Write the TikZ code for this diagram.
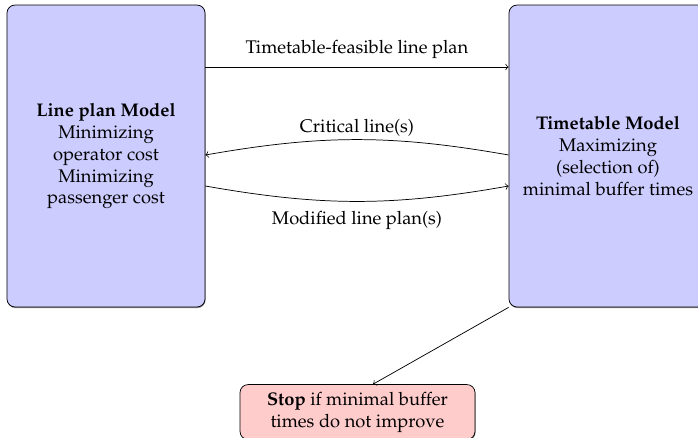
\documentclass[tikz,border=0pt]{standalone}
\usepackage[T1]{fontenc}
\usepackage{mathpazo}
\usetikzlibrary{arrows,shadows}
\tikzset{
  boxshadow/.style={drop shadow={shadow xshift=0.3pt, shadow yshift=-0.6pt, fill=black!45, opacity=1}},
  model/.style={draw, rounded corners=4.4pt, fill=blue!20, align=center, boxshadow,
    minimum width=108.2pt, minimum height=165pt, inner sep=2pt},
  stopbox/.style={draw, rounded corners=4.4pt, fill=red!20, align=center, boxshadow,
    minimum width=128.4pt, minimum height=30pt, inner sep=2pt},
  flow/.style={->, thin}
}
\begin{document}
\begin{tikzpicture}[x=0.5464pt, y=-0.5464pt]
  \useasboundingbox (0,0) rectangle (698,437);
  \node[model] (L) at (106,156) {\textbf{Line plan Model}\\Minimizing\\operator cost\\Minimizing\\passenger cost};
  \node[model] (R) at (608,156) {\textbf{Timetable Model}\\Maximizing\\(selection of)\\minimal buffer times};
  \node[stopbox] (S) at (357.5,412) {\textbf{Stop} if minimal buffer\\times do not improve};
  % forward: feasible plan
  \draw[flow] (L.east |- 0,67) -- node[above=1.2pt] {Timetable-feasible line plan} (R.west |- 0,67);
  % feedback: critical lines
  \draw[flow] (R.west |- 0,155) to[bend right=10] node[above=-1.5pt] {Critical line(s)} (L.east |- 0,155);
  % modified plan back to timetable
  \draw[flow] (L.east |- 0,186) to[bend right=10] node[below=2pt] {Modified line plan(s)} (R.west |- 0,186);
  % termination
  \draw[flow] (R.south west) -- (S.north -| 373,0);
\end{tikzpicture}
\end{document}
